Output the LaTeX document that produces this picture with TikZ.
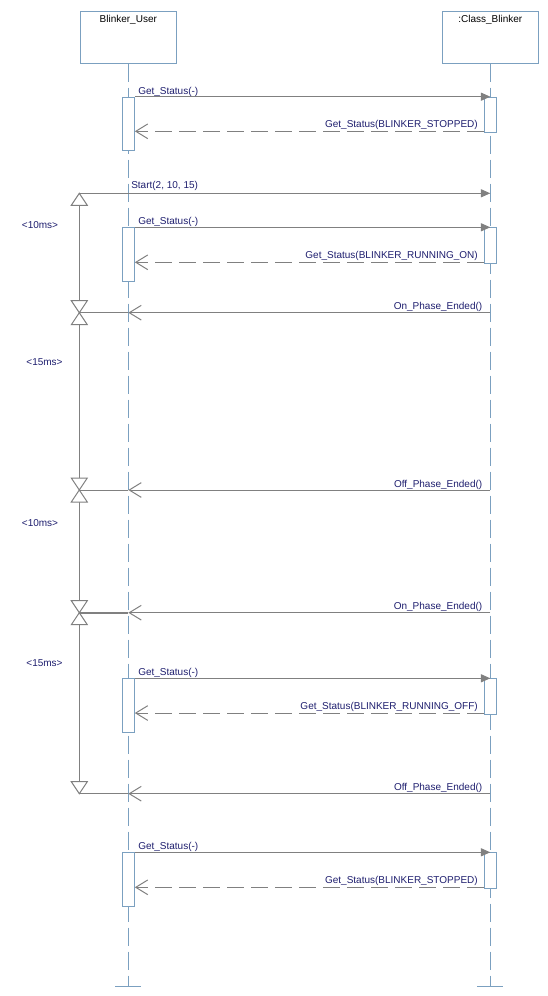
\documentclass[tikz,border=0pt]{standalone}
\usepackage{fontspec}
\setmainfont{Liberation Sans}
\usetikzlibrary{arrows.meta,calc}
\definecolor{life}{HTML}{7BA0C0}
\definecolor{msg}{HTML}{808080}
\definecolor{txt}{HTML}{1E1E6E}
\begin{document}
\begin{tikzpicture}[x=0.75pt,y=-0.75pt,
  font=\fontsize{7.5pt}{9pt}\selectfont,
  head/.style={draw=life, line width=0.75pt, minimum width=72pt, minimum height=39pt, inner sep=0pt},
  lifeline/.style={draw=life, line width=0.75pt, dash pattern=on 13.5pt off 4.5pt},
  lifebar/.style={draw=life, line width=0.75pt},
  act/.style={draw=life, fill=white, line width=0.75pt, minimum width=9pt, inner sep=0pt, anchor=north},
  call/.style={draw=msg, line width=0.75pt, -{Triangle[length=7pt,width=6pt]}},
  ret/.style={draw=msg, line width=0.75pt, dash pattern=on 12.75pt off 5.25pt, -{Straight Barb[length=9pt,width=11pt]}},
  async/.style={draw=msg, line width=0.75pt, -{Straight Barb[length=9pt,width=11pt]}},
  tlink/.style={draw=msg, line width=0.75pt},
  tri/.style={draw=msg, fill=white, line width=0.75pt},
  lbl/.style={text=txt, inner sep=0pt},
  hlbl/.style={text=black, inner sep=0pt, anchor=north, yshift=-3pt},
  ]
\useasboundingbox (0,0) rectangle (548,996);

% heads
\node[head, label={[hlbl]north:Blinker\_User}] (U) at (128.3,37) {};
\node[head, label={[hlbl]north::Class\_Blinker}] (C) at (490.3,37) {};

% lifelines
\coordinate (Uend) at (128.3,986);
\coordinate (Cend) at (490.3,986);
\draw[lifeline] (U.south) -- (Uend);
\draw[lifeline] (C.south) -- (Cend);
\draw[lifebar] ($(Uend)+(-13,0)$) -- ($(Uend)+(13,0)$);
\draw[lifebar] ($(Cend)+(-13,0)$) -- ($(Cend)+(13,0)$);

% activations
\node[act, minimum height=40.2pt] (ua1) at (128.3,96.7) {};
\node[act, minimum height=26.7pt] (cb1) at (490.3,96.7) {};
\node[act, minimum height=40.3pt] (ua2) at (128.3,227.3) {};
\node[act, minimum height=27pt]   (cb2) at (490.3,227.3) {};
\node[act, minimum height=40.3pt] (ua3) at (128.3,678.3) {};
\node[act, minimum height=26.8pt] (cb3) at (490.3,678.3) {};
\node[act, minimum height=40.5pt] (ua4) at (128.3,852.3) {};
\node[act, minimum height=27pt]   (cb4) at (490.3,852.3) {};

% group 1
\draw[call] (ua1.north east) -- (ua1.north east -| cb1.center);
\node[lbl, anchor=base west] (m1) at (138,94) {Get\_Status(-)};
\coordinate (r1) at ($(cb1.south west)+(0,-2)$);
\draw[ret] (r1) -- (r1 -| ua1.east);
\node[lbl, anchor=base east] (m1r) at (478,127.5) {Get\_Status(BLINKER\_STOPPED)};

% start
\coordinate (st) at (128.3,193.3);
\coordinate (cst) at (490.3,193.3);
\coordinate (t1) at (79.3,193.3);
\draw[call] (st) -- (cst);
\draw[tlink] (t1) -- (st);
\node[lbl, anchor=base west] (ms) at (131,188.5) {Start(2, 10, 15)};

% group 2
\draw[call] (ua2.north east) -- (ua2.north east -| cb2.center);
\node[lbl, anchor=base west] (m2) at (138,224.5) {Get\_Status(-)};
\coordinate (r2) at ($(cb2.south west)+(0,-2)$);
\draw[ret] (r2) -- (r2 -| ua2.east);
\node[lbl, anchor=base east] (m2r) at (478,258.5) {Get\_Status(BLINKER\_RUNNING\_ON)};

% async messages
\coordinate (a1c) at (490.3,312.7);
\coordinate (a1u) at (128.3,312.7);
\coordinate (t2) at (79.3,312.7);
\coordinate (a2c) at (490.3,490);
\coordinate (a2u) at (128.3,490);
\coordinate (t3) at (79.3,490);
\coordinate (a3c) at (490.3,612.7);
\coordinate (a3u) at (128.3,612.7);
\coordinate (t4) at (79.3,612.7);
\coordinate (a4c) at (490.3,793.7);
\coordinate (a4u) at (128.3,793.7);
\coordinate (t5) at (79.3,793.7);

\draw[async] (a1c) -- (a1u);
\draw[tlink] (a1u) -- (t2);
\node[lbl, anchor=base east] (o1) at (482.5,309.5) {On\_Phase\_Ended()};
\draw[async] (a2c) -- (a2u);
\draw[tlink] (a2u) -- (t3);
\node[lbl, anchor=base east] (o2) at (482.5,487) {Off\_Phase\_Ended()};
\draw[async] (a3c) -- (a3u);
\draw[tlink, line width=1.5pt] (a3u) -- (t4);
\node[lbl, anchor=base east] (o3) at (482.5,609.5) {On\_Phase\_Ended()};
\draw[async] (a4c) -- (a4u);
\draw[tlink] (a4u) -- (t5);
\node[lbl, anchor=base east] (o4) at (482.5,790.5) {Off\_Phase\_Ended()};

% group 3
\draw[call] (ua3.north east) -- (ua3.north east -| cb3.center);
\node[lbl, anchor=base west] (m3) at (138,675.5) {Get\_Status(-)};
\coordinate (r3) at ($(cb3.south west)+(0,-2)$);
\draw[ret] (r3) -- (r3 -| ua3.east);
\node[lbl, anchor=base east] (m3r) at (478,709.5) {Get\_Status(BLINKER\_RUNNING\_OFF)};

% group 4
\draw[call] (ua4.north east) -- (ua4.north east -| cb4.center);
\node[lbl, anchor=base west] (m4) at (138,849.5) {Get\_Status(-)};
\coordinate (r4) at ($(cb4.south west)+(0,-2)$);
\draw[ret] (r4) -- (r4 -| ua4.east);
\node[lbl, anchor=base east] (m4r) at (478,883.5) {Get\_Status(BLINKER\_STOPPED)};

% timing constraint
\draw[tlink] (t1) -- (t5);
\draw[tri] (t1) -- ++(-8,12) -- ++(16,0) -- cycle;
\foreach \t in {t2,t3,t4}{
  \draw[tri] (\t) -- ++(-8,-12) -- ++(16,0) -- cycle;
  \draw[tri] (\t) -- ++(-8,12) -- ++(16,0) -- cycle;
}
\draw[tri] (t5) -- ++(-8,-12) -- ++(16,0) -- cycle;

\node[lbl] (d1) at (40,225) {<10ms>};
\node[lbl] (d2) at (44.5,361.7) {<15ms>};
\node[lbl] (d3) at (40,522.7) {<10ms>};
\node[lbl] (d4) at (44.5,663.3) {<15ms>};
\end{tikzpicture}
\end{document}
